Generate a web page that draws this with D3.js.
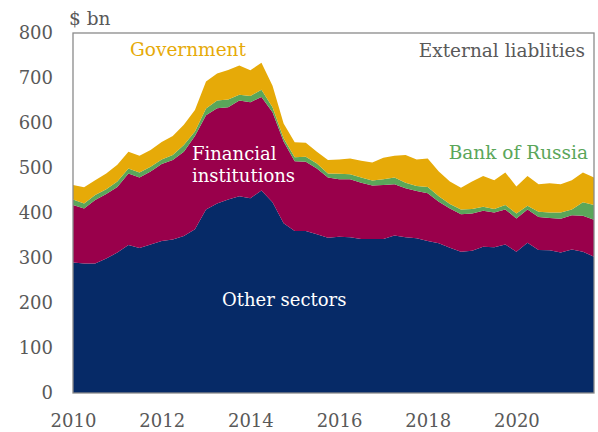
<!DOCTYPE html>
<html><head><meta charset="utf-8">
<script src="https://cdn.jsdelivr.net/npm/d3@7"></script>
<style>body{margin:0;background:#fff}svg{display:block}text{font-family:"DejaVu Serif",Georgia,serif}</style>
</head><body><svg id="c" width="598" height="432"></svg>
<script>
// quarterly observations, Q1 2010 .. Q4 2021
const quarters = d3.range(48).map(i => 2010 + i * 0.25);
const otherSectors = [290,288,288,299,312,329,322,330,338,341,349,364,408,421,430,437,433,450,424,377,360,360,353,345,347,346,342,342,342,350,346,344,338,333,323,314,316,325,324,330,314,334,318,317,312,319,314,303];
const financialInstitutions = [128,122,141,143,146,159,157,162,171,177,187,207,209,212,205,213,213,208,200,182,155,154,146,134,128,129,125,119,120,114,109,105,106,92,87,83,83,80,77,78,74,74,73,72,75,76,80,82];
const bankOfRussia = [12,11,11,11,12,11,11,11,10,11,15,10,15,17,17,13,14,16,11,7,9,11,11,9,12,11,12,11,13,15,12,11,14,12,10,11,10,9,8,10,11,8,12,12,14,13,30,33];
const government = [32,36,33,35,37,37,37,37,39,42,45,48,60,60,66,65,57,60,48,33,33,31,26,30,32,35,37,40,48,48,62,59,63,55,50,48,61,68,64,72,60,66,61,65,63,65,66,61];
const yTicks = [0,100,200,300,400,500,600,700,800];
const xTicks = [2010,2012,2014,2016,2018,2020];
const keys = ["other","financial","bor","gov"];
const colors = {other:"#062a67", financial:"#99004b", bor:"#5aa65a", gov:"#e6aa08"};

const rows = quarters.map((q,i)=>({q, other:otherSectors[i], financial:financialInstitutions[i], bor:bankOfRussia[i], gov:government[i]}));
const svg = d3.select("#c");
const L=73, R=594, T=33, B=393;
const x = d3.scaleLinear().domain([2010, 2021.75]).range([L, R]);
const y = d3.scaleLinear().domain([0, 800]).range([B, T]);
const series = d3.stack().keys(keys)(rows);
const area = d3.area().x(d=>x(d.data.q)).y0(d=>y(d[0])).y1(d=>y(d[1]));
svg.append("g").selectAll("path").data(series).join("path")
  .attr("d", area).attr("fill", d=>colors[d.key]);

// frame
svg.append("rect").attr("x",L).attr("y",T).attr("width",R-L).attr("height",B-T)
  .attr("fill","none").attr("stroke","#8a8a8a").attr("stroke-width",1.3);

const gray = "#595959";
const yAx = svg.append("g").attr("transform",`translate(${L},0)`)
  .call(d3.axisLeft(y).tickValues(yTicks).tickSize(0).tickPadding(20).tickFormat(d3.format("d")));
yAx.select(".domain").remove();
yAx.selectAll("text").attr("font-size",18).attr("fill",gray).attr("font-family","DejaVu Serif");
const xAx = svg.append("g").attr("transform",`translate(0,${B})`)
  .call(d3.axisBottom(x).tickValues(xTicks).tickSize(0).tickPadding(21).tickFormat(d3.format("d")));
xAx.select(".domain").remove();
xAx.selectAll("text").attr("font-size",18).attr("fill",gray).attr("font-family","DejaVu Serif");

function label(t, xx, yy, col, anchor, size){
  svg.append("text").attr("x",xx).attr("y",yy).attr("fill",col).attr("text-anchor",anchor||"start")
    .attr("font-size",size||18).text(t);
}
label("$ bn", 69, 25, gray, "start", 18.5);
label("Government", 188, 56, "#e6aa08", "middle", 18.5);
label("External liablities", 585, 57, gray, "end", 18.5);
label("Bank of Russia", 588, 159, "#5aa65a", "end", 18.5);
label("Financial", 192, 160, "#fff", "start", 18);
label("institutions", 192, 182, "#fff", "start", 18);
label("Other sectors", 222, 306, "#fff", "start", 18);
</script></body></html>
